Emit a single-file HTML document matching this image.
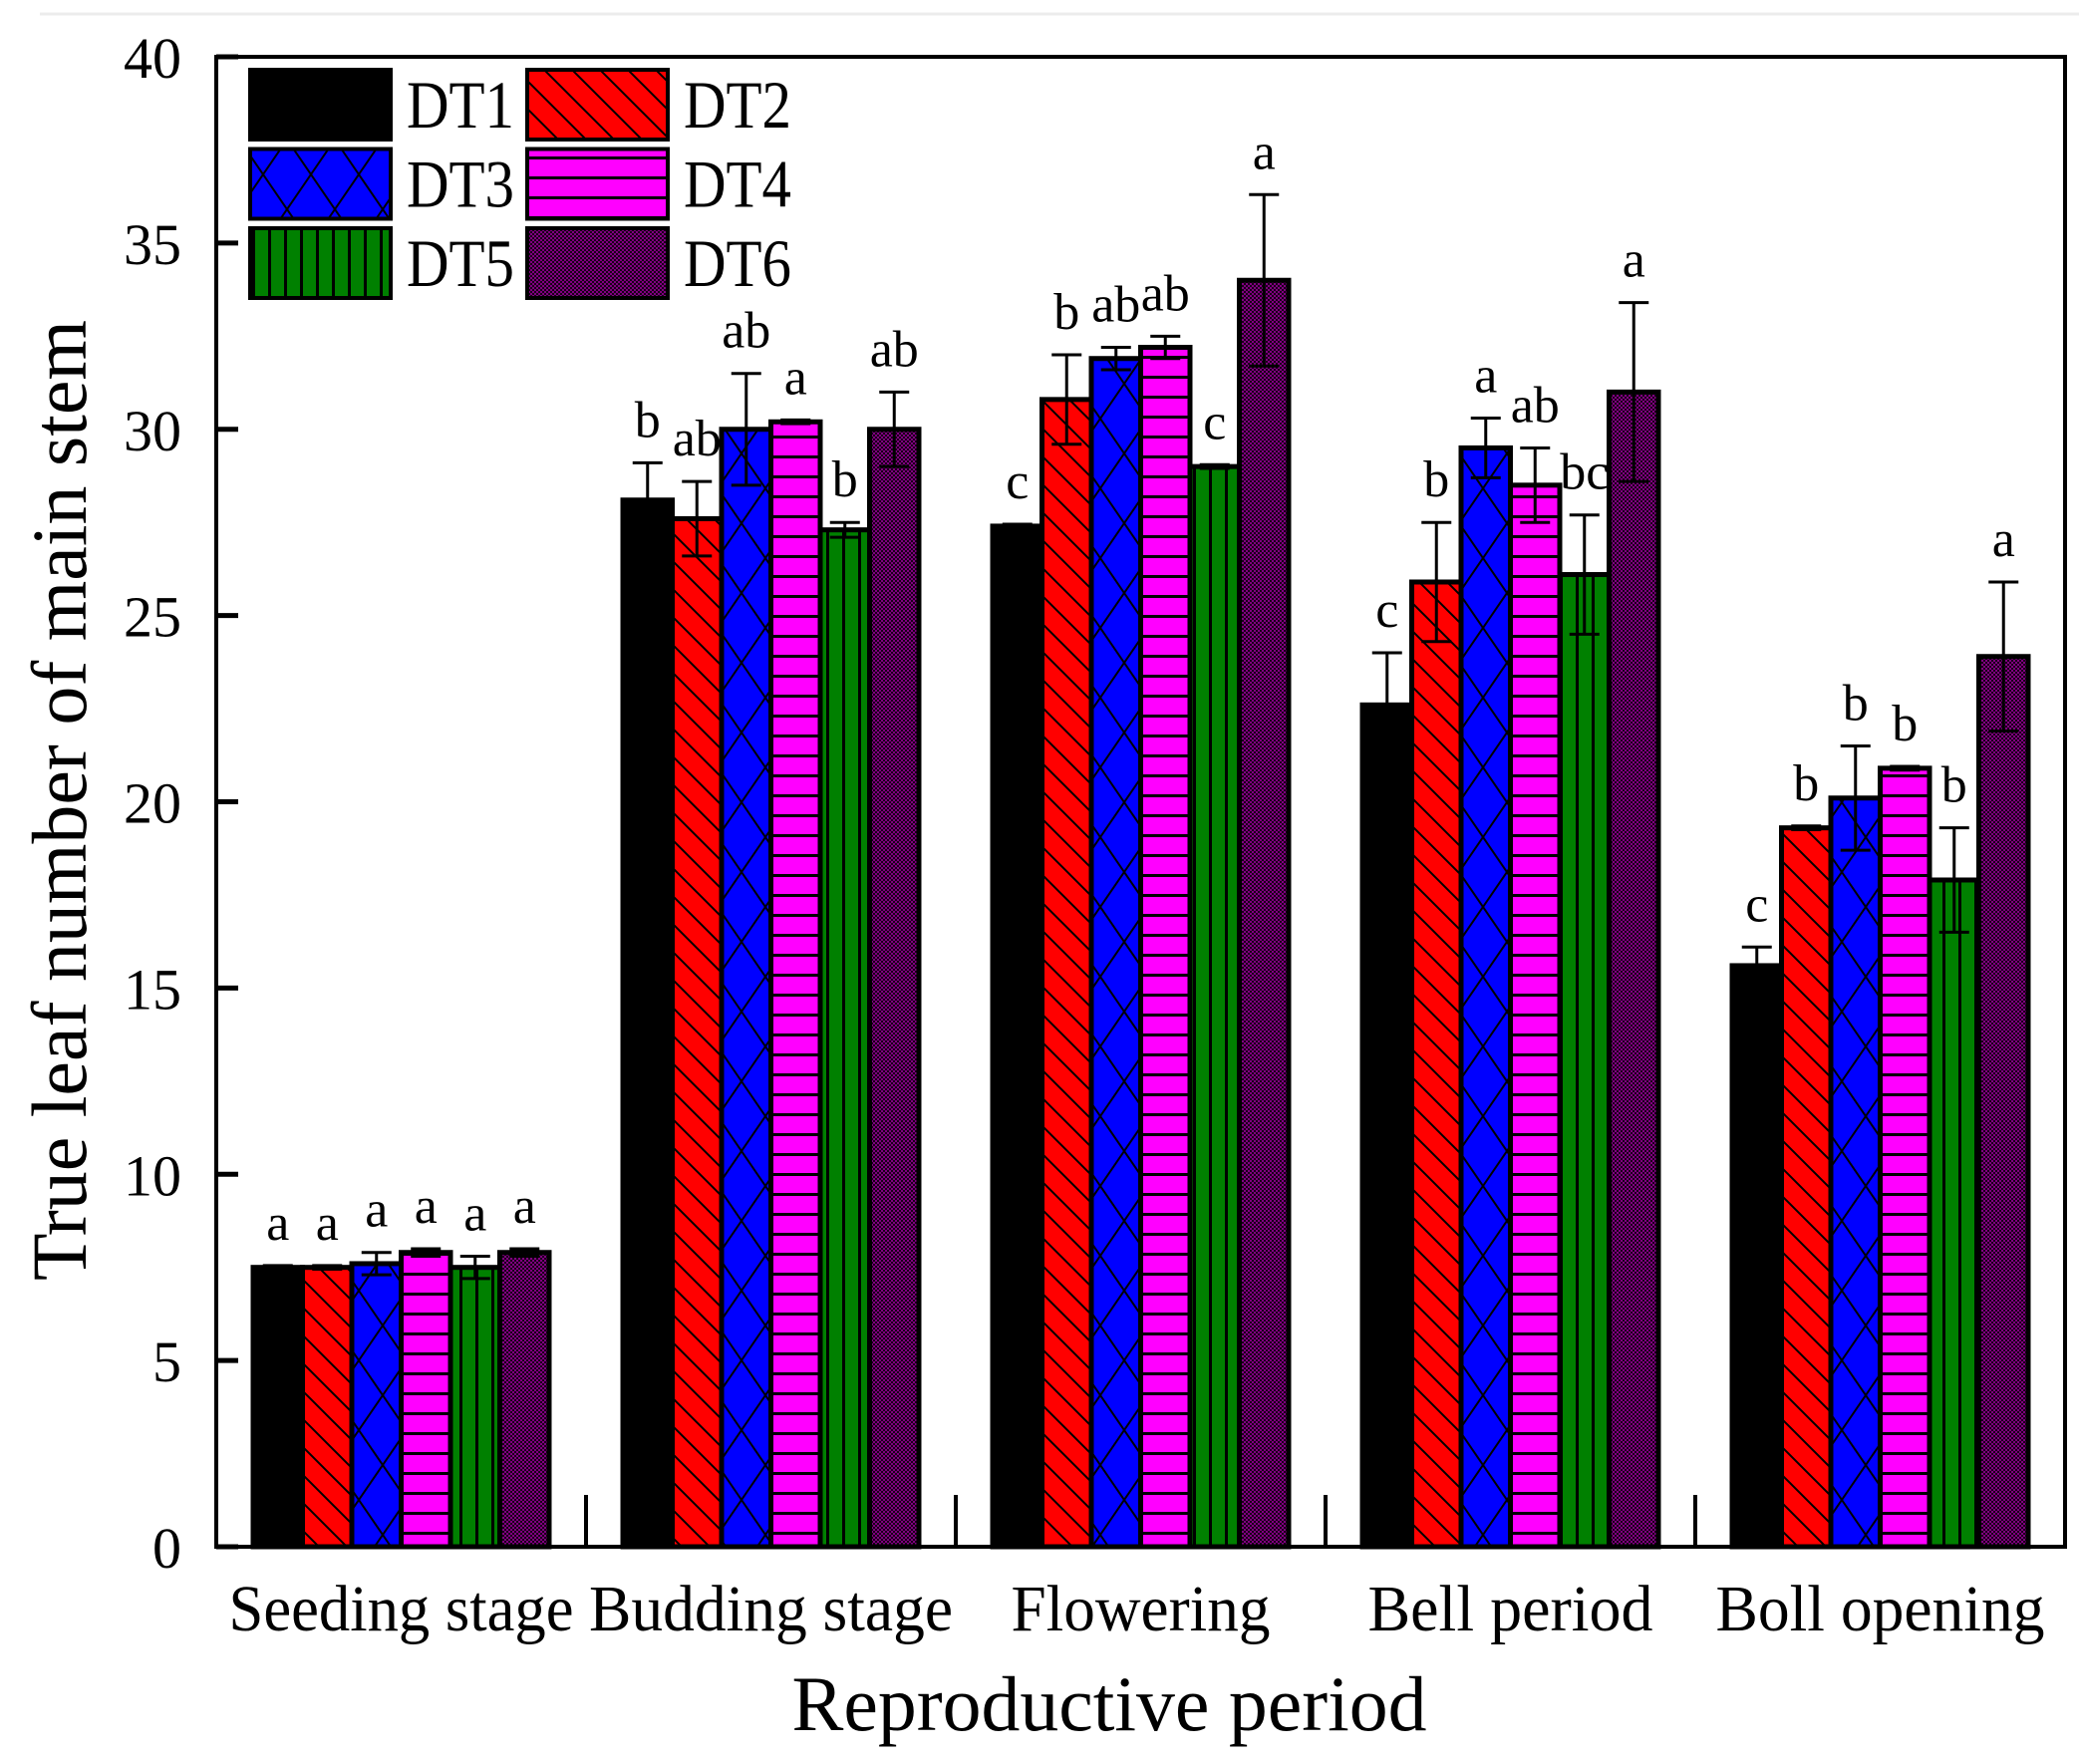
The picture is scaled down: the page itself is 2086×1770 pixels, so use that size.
<!DOCTYPE html>
<html><head><meta charset="utf-8"><style>
html,body{margin:0;padding:0;background:#fff;}
svg{display:block;}
text{font-family:"Liberation Serif",serif;fill:#000;}
</style></head><body>
<svg id="chart" width="2086" height="1770" viewBox="0 0 2086 1770" xmlns="http://www.w3.org/2000/svg">
<defs>
<pattern id="p2" patternUnits="userSpaceOnUse" width="28" height="28"><rect width="28" height="28" fill="#ff0000"/><path d="M-7,-7 L35,35 M-7,21 L7,35 M21,-7 L35,7" stroke="#000" stroke-width="2"/></pattern>
<pattern id="p3" patternUnits="userSpaceOnUse" width="48" height="70"><rect width="48" height="70" fill="#0000ff"/><path d="M0,0 L48,70 M48,0 L0,70" stroke="#000" stroke-width="2"/></pattern>
<pattern id="p4" patternUnits="userSpaceOnUse" width="20" height="20"><rect width="20" height="20" fill="#ff00ff"/><rect y="17" width="20" height="3" fill="#000"/></pattern>
<pattern id="p5" patternUnits="userSpaceOnUse" width="16" height="20"><rect width="16" height="20" fill="#008000"/><rect x="13" width="3" height="20" fill="#000"/></pattern>
<pattern id="p6" patternUnits="userSpaceOnUse" width="4" height="4"><rect width="4" height="4" fill="#800080"/><rect width="2" height="2" fill="#1a001a"/><rect x="2" y="2" width="2" height="2" fill="#1a001a"/></pattern>
</defs>
<line x1="40" y1="14" x2="2086" y2="14" stroke="#ececec" stroke-width="3"/>
<g id="plot"></g>
</svg>
<script>
const categories = ["Seeding stage","Budding stage","Flowering","Bell period","Boll opening"];
const seriesNames = ["DT1","DT2","DT3","DT4","DT5","DT6"];
const dt1 = [7.5, 28.1, 27.4, 22.6, 15.6];
const dt2 = [7.5, 27.6, 30.8, 25.9, 19.3];
const dt3 = [7.6, 30.0, 31.9, 29.5, 20.1];
const dt4 = [7.9, 30.2, 32.2, 28.5, 20.9];
const dt5 = [7.5, 27.3, 29.0, 26.1, 17.9];
const dt6 = [7.9, 30.0, 34.0, 31.0, 23.9];
const err1 = [0.05, 1.0, 0.05, 1.4, 0.5];
const err2 = [0.05, 1.0, 1.2, 1.6, 0.05];
const err3 = [0.3, 1.5, 0.3, 0.8, 1.4];
const err4 = [0.1, 0.05, 0.3, 1.0, 0.05];
const err5 = [0.3, 0.2, 0.05, 1.6, 1.4];
const err6 = [0.1, 1.0, 2.3, 2.4, 2.0];
const let1 = ["a","b","c","c","c"];
const let2 = ["a","ab","b","b","b"];
const let3 = ["a","ab","ab","a","b"];
const let4 = ["a","a","ab","ab","b"];
const let5 = ["a","b","c","bc","b"];
const let6 = ["a","ab","a","a","a"];
const yTicks = [0,5,10,15,20,25,30,35,40];

const series=[dt1,dt2,dt3,dt4,dt5,dt6];
const errs=[err1,err2,err3,err4,err5,err6];
const lets=[let1,let2,let3,let4,let5,let6];
const fills=["#000000","url(#p2)","url(#p3)","url(#p4)","url(#p5)","url(#p6)"];
const NS="http://www.w3.org/2000/svg";
const L=217,R=2072,T=57,B=1552,yMax=40;
const slot=(R-L)/categories.length, bw=49.5;
function y(v){return B-(v/yMax)*(B-T);}
function xc(c){return L+slot*(c+0.5);}
const g=document.getElementById('plot');
function mk(tag,attrs,parent){const e=document.createElementNS(NS,tag);for(const k in attrs)e.setAttribute(k,attrs[k]);(parent||g).appendChild(e);return e;}

for(let c=0;c<categories.length;c++){
  const x0=xc(c)-bw*3;
  for(let s=0;s<6;s++){
    const v=series[s][c];
    const r=mk('rect',{x:x0+s*bw,y:y(v),width:bw,height:B-y(v),fill:fills[s],stroke:'#000','stroke-width':5});
    
    
  }
  for(let s=0;s<6;s++){
    const v=series[s][c],e=errs[s][c],cx=x0+s*bw+bw/2;
    const eg=mk('g',{stroke:'#000','stroke-width':3});
    
    
    mk('line',{x1:cx,x2:cx,y1:y(v+e),y2:y(v-e)},eg);
    mk('line',{x1:cx-15,x2:cx+15,y1:y(v+e),y2:y(v+e)},eg);
    mk('line',{x1:cx-15,x2:cx+15,y1:y(v-e),y2:y(v-e)},eg);
    const t=mk('text',{x:cx,y:y(v+e)-26,'font-size':52,'text-anchor':'middle'});
    t.textContent=lets[s][c];
    
    
  }
}
const fr=mk('rect',{x:L,y:T,width:R-L,height:B-T,fill:'none',stroke:'#000','stroke-width':4});


for(const v of yTicks){
  const tk=mk('line',{x1:L,x2:L+22,y1:y(v),y2:y(v),stroke:'#000','stroke-width':5});
  
  
  const t=mk('text',{x:182,y:y(v)+21,'font-size':58,'text-anchor':'end'});
  t.textContent=v;
  
  
}
for(let c=1;c<categories.length;c++){
  const tk=mk('line',{x1:L+slot*c,x2:L+slot*c,y1:B,y2:B-52,stroke:'#000','stroke-width':4});
  
  
}
const catW=[346,365,260,286,330];
for(let c=0;c<categories.length;c++){
  const t=mk('text',{x:xc(c),y:1636,'font-size':66,'text-anchor':'middle',textLength:catW[c],lengthAdjust:'spacingAndGlyphs'});
  t.textContent=categories[c];
  
  
}
const xt=mk('text',{x:1113,y:1736,'font-size':78,'text-anchor':'middle',textLength:637,lengthAdjust:'spacingAndGlyphs'});
xt.textContent='Reproductive period';


const yt=mk('text',{x:0,y:0,'font-size':78,'text-anchor':'middle',textLength:964,lengthAdjust:'spacingAndGlyphs',transform:'translate(86,803) rotate(-90)'});
yt.textContent='True leaf number of main stem';


const lg=mk('g',{});


for(let s=0;s<6;s++){
  const col=s%2,row=Math.floor(s/2);
  const bx=col?529:251, by=70+row*79.5;
  const r=mk('rect',{x:bx,y:by,width:141,height:70,fill:fills[s],stroke:'#000','stroke-width':4},lg);
  
  
  const t=mk('text',{x:bx+157,y:by+58,'font-size':68,textLength:108,lengthAdjust:'spacingAndGlyphs'},lg);
  t.textContent=seriesNames[s];
  
  
}
</script>
</body></html>
